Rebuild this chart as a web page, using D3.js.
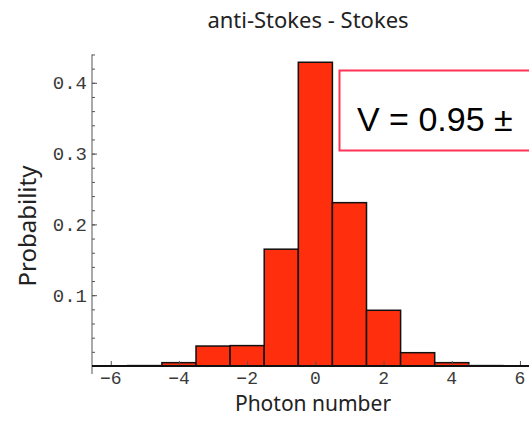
<!DOCTYPE html>
<html>
<head>
<meta charset="utf-8">
<script src="https://cdn.jsdelivr.net/npm/d3@7"></script>
<style>
  body { margin: 0; background: #fff; }
  svg { display: block; }
</style>
</head>
<body>
<div id="chart"></div>
<script>
// histogram data: anti-Stokes minus Stokes photon number
const photonNumbers = [-5, -4, -3, -2, -1, 0, 1, 2, 3, 4, 5];
const probabilities = [0.001, 0.0047, 0.0282, 0.0288, 0.165, 0.429, 0.2307, 0.0787, 0.0188, 0.0047, 0.001];
const xTickValues = [-6, -4, -2, 0, 2, 4, 6];
const yTickValues = [0.1, 0.2, 0.3, 0.4];
const yMinorTicks = d3.range(0.02, 0.441, 0.02);

var width = 529, height = 422;

var svg = d3.select("#chart").append("svg")
    .attr("width", width)
    .attr("height", height);

var x = d3.scaleLinear().domain([-6.55, 6.5]).range([92, 92 + 13.05 * 34.1]);
var y = d3.scaleLinear().domain([0, 0.44]).range([366, 366 - 0.44 * 708]);

// title
svg.append("text")
    .attr("x", 308).attr("y", 28)
    .attr("text-anchor", "middle")
    .style("font-family", "'Noto Sans', sans-serif")
    .style("font-size", "22px")
    .style("fill", "#222")
    .text("anti-Stokes - Stokes");

// bars
var bars = photonNumbers.map((n, i) => ({ n: n, p: probabilities[i] }));
svg.selectAll(".bar")
    .data(bars)
    .enter()
    .append("rect")
    .attr("class", "bar")
    .attr("x", d => x(d.n - 0.5))
    .attr("width", d => x(d.n + 0.5) - x(d.n - 0.5))
    .attr("y", d => y(d.p))
    .attr("height", d => y(0) - y(d.p))
    .attr("fill", "#ff2f0e")
    .attr("stroke", d => (y(0) - y(d.p)) < 1.5 ? "#aaa" : "#111")
    .attr("stroke-width", 1.5);

// y axis
var yAxis = d3.axisRight(y).tickValues(yTickValues).tickSize(5).tickFormat("");
var gy = svg.append("g").attr("transform", "translate(" + x(-6.55) + ",0)");
gy.append("g").call(yAxis).call(g => g.select(".domain").remove());
gy.append("g").call(d3.axisRight(y).tickValues(yMinorTicks).tickSize(3).tickFormat(""))
    .call(g => g.select(".domain").remove());
gy.selectAll("line").attr("stroke", "#555");
gy.append("line")
    .attr("x1", 0).attr("x2", 0)
    .attr("y1", y(0.44)).attr("y2", y(0) + 8)
    .attr("stroke", "#555").attr("stroke-width", 1);
gy.selectAll(".ylab")
    .data(yTickValues)
    .enter()
    .append("text")
    .attr("class", "ylab")
    .attr("x", -5)
    .attr("y", d => y(d))
    .attr("dy", "0.35em")
    .attr("text-anchor", "end")
    .style("font-family", "'Liberation Mono', monospace")
    .style("font-size", "19px")
    .style("fill", "#3a3a3a")
    .text(d => d3.format(".1f")(d));

// x axis
var gx = svg.append("g").attr("transform", "translate(0," + y(0) + ")");
gx.append("g").call(d3.axisTop(x).tickValues(xTickValues).tickSize(5).tickFormat(""))
    .call(g => g.select(".domain").remove())
    .selectAll("line").attr("stroke", "#555");
gx.append("line")
    .attr("x1", x(-6.55)).attr("x2", width)
    .attr("stroke", "#111").attr("stroke-width", 2);
gx.selectAll(".xlab")
    .data(xTickValues)
    .enter()
    .append("text")
    .attr("class", "xlab")
    .attr("x", d => x(d))
    .attr("y", 18)
    .attr("text-anchor", "middle")
    .style("font-family", "'Liberation Mono', monospace")
    .style("font-size", "18px")
    .style("fill", "#3a3a3a")
    .text(d => d < 0 ? "\u2212" + Math.abs(d) : d);

// axis labels
svg.append("text")
    .attr("x", 313).attr("y", 411)
    .attr("text-anchor", "middle")
    .style("font-family", "'Noto Sans', sans-serif")
    .style("font-size", "21px")
    .style("fill", "#222")
    .text("Photon number");

svg.append("text")
    .attr("transform", "translate(36,226) rotate(-90)")
    .attr("text-anchor", "middle")
    .style("font-family", "'Noto Sans', sans-serif")
    .style("font-size", "24px")
    .style("fill", "#222")
    .text("Probability");

// visibility box
svg.append("rect")
    .attr("x", 339.5).attr("y", 70.5)
    .attr("width", 260).attr("height", 80)
    .attr("fill", "#fff")
    .attr("stroke", "#ff3355")
    .attr("stroke-width", 2);

svg.append("text")
    .attr("x", 357).attr("y", 131)
    .style("font-family", "'Liberation Sans', Arial, sans-serif")
    .style("font-size", "34px")
    .style("fill", "#000")
    .text("V = 0.95 \u00b1");
</script>
</body>
</html>
